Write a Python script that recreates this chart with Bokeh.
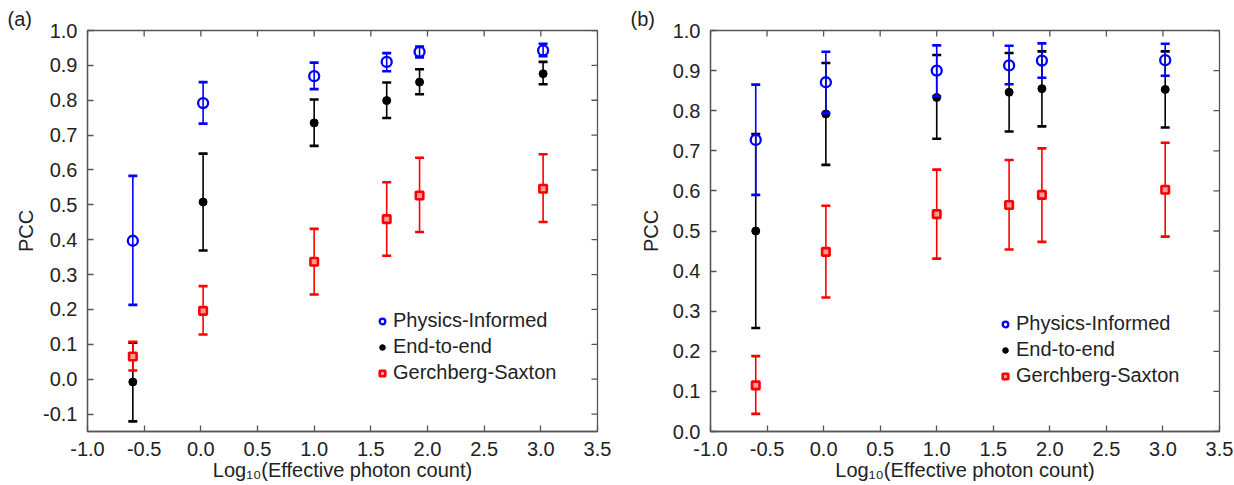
import math
from bokeh.plotting import figure
from bokeh.layouts import row
from bokeh.models import (Range1d, FixedTicker, PrintfTickFormatter,
                          Legend, LegendItem, Title)
from bokeh.embed import file_html
from bokeh.resources import INLINE

# ---------------- data ----------------
x_vals = [-0.6, 0.02, 1.0, 1.64, 1.93, 3.02]

x_ticks = [-1.0, -0.5, 0.0, 0.5, 1.0, 1.5, 2.0, 2.5, 3.0, 3.5]
y_ticks_a = [-0.1, 0.0, 0.1, 0.2, 0.3, 0.4, 0.5, 0.6, 0.7, 0.8, 0.9, 1.0]
y_ticks_b = [0.0, 0.1, 0.2, 0.3, 0.4, 0.5, 0.6, 0.7, 0.8, 0.9, 1.0]

series_names = ["Physics-Informed", "End-to-end", "Gerchberg-Saxton"]

# panel (a)
a_phys = [0.397, 0.792, 0.869, 0.910, 0.939, 0.943]
a_phys_lo = [0.213, 0.733, 0.832, 0.883, 0.923, 0.926]
a_phys_hi = [0.583, 0.852, 0.908, 0.935, 0.954, 0.962]
a_e2e = [-0.008, 0.508, 0.735, 0.799, 0.852, 0.876]
a_e2e_lo = [-0.121, 0.369, 0.669, 0.749, 0.817, 0.846]
a_e2e_hi = [0.105, 0.647, 0.802, 0.851, 0.889, 0.910]
a_gs = [0.065, 0.196, 0.337, 0.459, 0.527, 0.546]
a_gs_lo = [0.025, 0.128, 0.243, 0.354, 0.422, 0.451]
a_gs_hi = [0.107, 0.267, 0.431, 0.565, 0.635, 0.645]

# panel (b)
b_phys = [0.727, 0.871, 0.900, 0.913, 0.925, 0.926]
b_phys_lo = [0.590, 0.794, 0.836, 0.866, 0.882, 0.887]
b_phys_hi = [0.865, 0.947, 0.963, 0.962, 0.968, 0.967]
b_e2e = [0.500, 0.792, 0.833, 0.846, 0.855, 0.853]
b_e2e_lo = [0.258, 0.665, 0.730, 0.748, 0.761, 0.758]
b_e2e_hi = [0.742, 0.919, 0.939, 0.944, 0.948, 0.948]
b_gs = [0.115, 0.448, 0.542, 0.565, 0.590, 0.603]
b_gs_lo = [0.044, 0.334, 0.431, 0.454, 0.473, 0.486]
b_gs_hi = [0.188, 0.563, 0.653, 0.677, 0.706, 0.720]

BLUE = "#0000ff"
BLACK = "#000000"
RED = "#ff0000"
FRAME = "#555555"
TXT = "#222222"
FONT = "Liberation Sans"


def errbars(p, x, lo, hi, color):
    p.segment(x0=x, y0=lo, x1=x, y1=hi, line_color=color, line_width=1.6)
    p.scatter(x=x, y=lo, marker="dash", size=9, line_color=color, line_width=2.6)
    p.scatter(x=x, y=hi, marker="dash", size=9, line_color=color, line_width=2.6)


def style_axis(ax, ticks, standoff):
    ax.ticker = FixedTicker(ticks=ticks)
    ax.formatter = PrintfTickFormatter(format="%.1f")
    ax.major_tick_in = 6
    ax.major_tick_out = 0
    ax.minor_tick_line_color = None
    ax.major_tick_line_color = FRAME
    ax.major_tick_line_width = 1.3
    ax.axis_line_color = FRAME
    ax.axis_line_width = 1.3
    ax.major_label_text_font = FONT
    ax.major_label_text_color = TXT
    ax.major_label_text_font_size = "20px"
    ax.major_label_standoff = standoff
    ax.axis_label_text_font = FONT
    ax.axis_label_text_font_style = "normal"
    ax.axis_label_text_font_size = "20px"
    ax.axis_label_text_color = TXT


def make_panel(tag, width, borders, ymin, yticks, phys, phys_lo, phys_hi,
               e2e, e2e_lo, e2e_hi, gs, gs_lo, gs_hi, ylab_standoff, legend_loc,
               tag_x):
    left, right, top, bottom = borders
    p = figure(width=width, height=485, x_range=Range1d(-1.0, 3.5),
               y_range=Range1d(ymin, 1.0), output_backend="svg",
               toolbar_location=None, min_border_left=left,
               min_border_right=right, min_border_top=top,
               min_border_bottom=bottom)
    p.title = Title(text=tag, align="left", offset=tag_x - left,
                    standoff=2, text_font=FONT, text_font_size="20px",
                    text_font_style="normal", text_color=TXT)
    p.xgrid.visible = False
    p.ygrid.visible = False
    p.outline_line_color = FRAME
    p.outline_line_width = 1.3
    p.background_fill_color = "white"
    p.border_fill_color = "white"

    style_axis(p.xaxis[0], x_ticks, 10)
    style_axis(p.yaxis[0], yticks, 10)
    p.xaxis.axis_label = "Log\u2081\u2080(Effective photon count)"
    p.yaxis.axis_label = "PCC"
    p.xaxis.axis_label_standoff = 0
    p.yaxis.axis_label_standoff = ylab_standoff

    # mirrored inward ticks on the top and right frame edges
    ymax = p.y_range.end
    xmax = p.x_range.end
    p.scatter(x=x_ticks, y=[ymax] * len(x_ticks), marker="dash", angle=math.pi / 2,
              size=12, line_color=FRAME, line_width=1.3)
    p.scatter(x=[xmax] * len(yticks), y=yticks, marker="dash",
              size=12, line_color=FRAME, line_width=1.3)

    # end-to-end (drawn first), then GS, then physics-informed on top
    errbars(p, x_vals, e2e_lo, e2e_hi, BLACK)
    r_e2e = p.scatter(x=x_vals, y=e2e, marker="circle", size=8,
                      fill_color=BLACK, line_color=BLACK, line_width=1)
    errbars(p, x_vals, gs_lo, gs_hi, RED)
    r_gs = p.scatter(x=x_vals, y=gs, marker="square", size=7.5,
                     fill_color="#ff9a9a", line_color=RED, line_width=2.6)
    errbars(p, x_vals, phys_lo, phys_hi, BLUE)
    r_phys = p.scatter(x=x_vals, y=phys, marker="circle", size=10,
                       fill_color=None, line_color=BLUE, line_width=2.3)

    legend = Legend(items=[LegendItem(label=series_names[0], renderers=[r_phys]),
                           LegendItem(label=series_names[1], renderers=[r_e2e]),
                           LegendItem(label=series_names[2], renderers=[r_gs])],
                    location=legend_loc, glyph_width=14, glyph_height=22,
                    label_height=22, spacing=3, padding=0, margin=0,
                    label_standoff=4, border_line_color=None,
                    background_fill_alpha=0, label_text_font=FONT,
                    label_text_font_size="20px", label_text_color=TXT)
    p.add_layout(legend)
    return p


pa = make_panel("(a)", 625, (87, 28, 30, 53), -0.15, y_ticks_a,
                a_phys, a_phys_lo, a_phys_hi, a_e2e, a_e2e_lo, a_e2e_hi,
                a_gs, a_gs_lo, a_gs_hi, 3, (288, 47), 7)
pb = make_panel("(b)", 609, (85, 15, 29, 54), 0.0, y_ticks_b,
                b_phys, b_phys_lo, b_phys_hi, b_e2e, b_e2e_lo, b_e2e_hi,
                b_gs, b_gs_lo, b_gs_hi, 8, (288, 44), 5)

layout = row(pa, pb, spacing=0)
open("out.html", "w").write(file_html(layout, INLINE))
